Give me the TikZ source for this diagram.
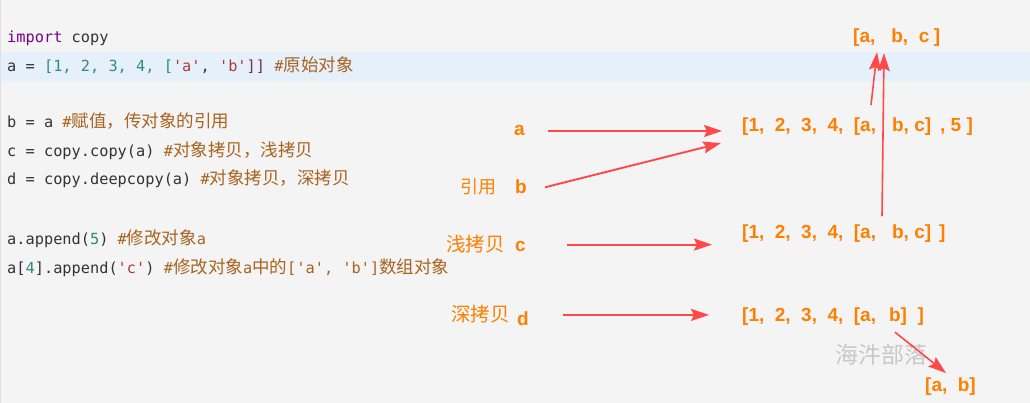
\documentclass[tikz,border=0pt]{standalone}
\usepackage{fontspec}
\setmainfont{Liberation Sans}
\setmonofont{DejaVu Sans Mono}
\newfontfamily\cjk{Noto Sans CJK SC}
\usetikzlibrary{arrows.meta,positioning}

\definecolor{bgcol}{HTML}{F4F4F4}
\definecolor{hlcol}{HTML}{E6F0FB}
\definecolor{txtcol}{HTML}{333333}
\definecolor{kwcol}{HTML}{770088}
\definecolor{numcol}{HTML}{2E8B7E}
\definecolor{strcol}{HTML}{B03A3A}
\definecolor{brkcol}{HTML}{7A3050}
\definecolor{cmtcol}{HTML}{A8631F}
\definecolor{labcol}{HTML}{FF7F00}
\definecolor{arrcol}{HTML}{FF4848}
\definecolor{wmcol}{HTML}{C8C8C8}

% code colouring
\newcommand{\kw}[1]{\textcolor{kwcol}{#1}}
\newcommand{\nm}[1]{\textcolor{numcol}{#1}}
\newcommand{\strg}[1]{\textcolor{strcol}{#1}}
\newcommand{\cmt}[1]{\textcolor{cmtcol}{#1}}
\newcommand{\zh}[1]{{\cjk\fontsize{17.5}{20}\selectfont #1}}
% chinese in the orange names
\newcommand{\zhlab}[2]{{\cjk\mdseries\fontsize{#1}{22}\selectfont #2}}
% gaps in the orange lists
\newcommand{\lgap}{\hspace{10.5pt}}

\begin{document}
\begin{tikzpicture}[x=1pt, y=-1pt,
  code/.style={anchor=base west, inner sep=0pt, text=txtcol,
    font=\ttfamily\fontsize{15.3}{18}\selectfont},
  lab/.style={anchor=base west, inner sep=0pt, text=labcol,
    font=\bfseries\fontsize{19}{22}\selectfont},
  arr/.style={draw=arrcol, line width=1.9pt,
    -{Stealth[length=18pt, width=12pt, inset=3pt]}}
]
\useasboundingbox (0,0) rectangle (1030,403);

% background and highlighted line
\fill[bgcol] (0,0) rectangle (1030,403);
\fill[hlcol] (0,52) rectangle (1030,81);
\draw[black!12, line width=1pt] (0.5,0) -- (0.5,403);

% code
\node[code] (c1) at (7,43) {\kw{import} copy};
\node[code] (c2) at (7,72) {a = \nm{[1, 2, 3, 4, [}\strg{'a'}, \strg{'b'}\textcolor{brkcol}{]]} \cmt{\#\zh{原始对象}}};
\node[code] (c3) at (7,128) {b = a \cmt{\#\zh{赋值，传对象的引用}}};
\node[code] (c4) at (7,157) {c = copy.copy(a) \cmt{\#\zh{对象拷贝，浅拷贝}}};
\node[code] (c5) at (7,185) {d = copy.deepcopy(a) \cmt{\#\zh{对象拷贝，深拷贝}}};
\node[code] (c6) at (7,244) {a.append(\nm{5}) \cmt{\#\zh{修改对象}a}};
\node[code] (c7) at (7,273) {a[\nm{4}].append(\strg{'c'}) \cmt{\#\zh{修改对象}a\zh{中的}['a', 'b']\zh{数组对象}}};

% watermark
\node[anchor=base west, inner sep=0pt, text=wmcol,
  font=\cjk\fontsize{23}{26}\selectfont] (wm) at (835,363) {海汼部落};

% names
\node[lab] (la) at (514,136) {a};
\node[lab] (lb) at (460,194) {\zhlab{18}{引用}\hspace{19pt}b};
\node[lab] (lc) at (446,252) {\zhlab{19.5}{浅拷贝}\hspace{10.5pt}c};
\node[lab] (ld) at (451,321) {\zhlab{19.5}{深拷贝}\hspace{7.5pt}\raisebox{-4pt}{d}};

% objects
\node[lab] (lt) at (853,43) {[a,\hspace{16pt}b,\lgap c\hspace{4.5pt}]};
\node[lab] (l1) at (742,132) {[1,\lgap 2,\lgap 3,\lgap 4,\lgap [a,\hspace{16pt}b, c]\hspace{9pt}, 5 ]};
\node[lab] (l2) at (742,239) {[1,\lgap 2,\lgap 3,\lgap 4,\lgap [a,\hspace{16pt}b, c]\hspace{8pt}]};
\node[lab] (l3) at (742,321) {[1,\lgap 2,\lgap 3,\lgap 4,\lgap [a,\hspace{13pt}b]\lgap ]};
\node[lab] (lab) at (925,391) {[a,\lgap b]};

% connectors
\draw[arr, shorten <=23pt, shorten >=20pt] (la.east) -- (la.east -| l1.west);
\draw[arr] ([xshift=18pt]lb.east) -- ([xshift=-21pt,yshift=-16pt]l1.west);
\draw[arr, shorten <=41pt, shorten >=30pt] (lc.east) -- (lc.east -| l2.west);
\draw[arr, shorten <=34pt, shorten >=33pt] (ld.east) -- (ld.east -| l3.west);
\draw[arr, line width=1.6pt] ([xshift=129pt,yshift=13pt]l1.north west) -- ([xshift=24pt,yshift=-5pt]lt.south west);
\draw[arr, line width=1.6pt] ([xshift=140pt,yshift=9pt]l2.north west) -- ([xshift=31pt,yshift=-6pt]lt.south west);
\draw[arr, line width=1.6pt] ([xshift=153pt,yshift=-7pt]l3.south west) -- ([xshift=21pt,yshift=4pt]lab.north west);
\end{tikzpicture}
\end{document}
